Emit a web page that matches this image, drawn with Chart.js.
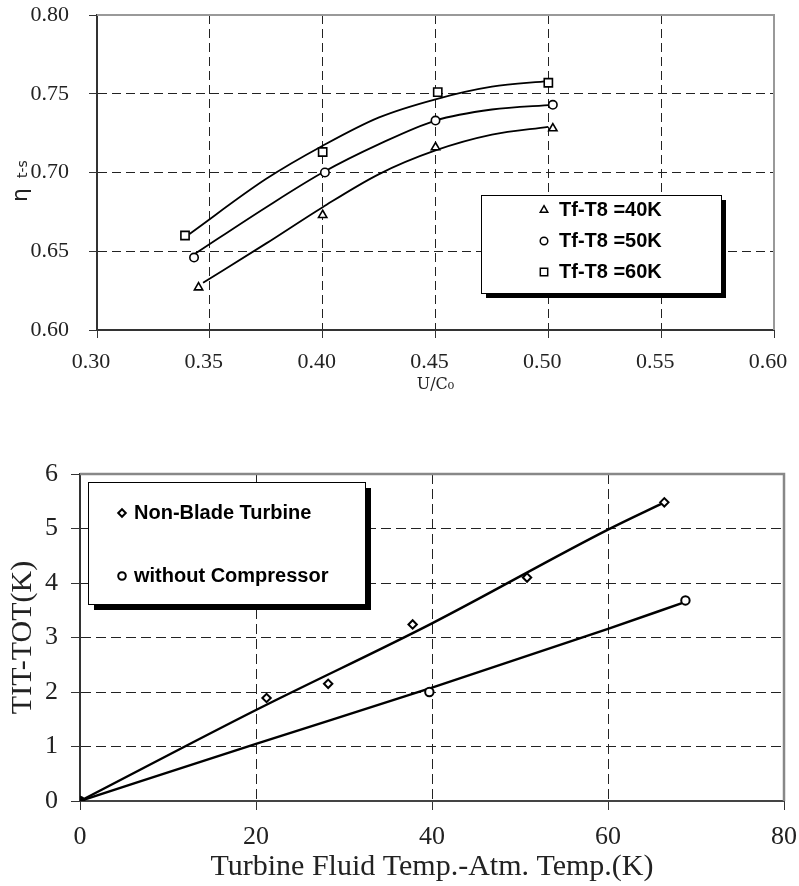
<!DOCTYPE html>
<html>
<head>
<meta charset="utf-8">
<script src="https://cdn.jsdelivr.net/npm/chart.js@4.4.1/dist/chart.umd.min.js"></script>
<style>
body { margin: 0; background: #fff; }
#top_box { position: absolute; left: 0; top: 0; }
#bottom_box { position: absolute; left: 0; top: 400px; }
</style>
</head>
<body>
<div id="top_box"><canvas id="eff_chart" width="799" height="400"></canvas></div>
<div id="bottom_box"><canvas id="temp_chart" width="799" height="486"></canvas></div>
<script>
// --- efficiency vs U/C0 ---
let uc_ticks = [0.30, 0.35, 0.40, 0.45, 0.50, 0.55, 0.60]
let eta_ticks = [0.60, 0.65, 0.70, 0.75, 0.80]

let uc_40 = [0.345, 0.400, 0.450, 0.502]
let eta_40 = [0.627, 0.673, 0.716, 0.728]
let uc_50 = [0.343, 0.401, 0.450, 0.502]
let eta_50 = [0.646, 0.700, 0.733, 0.743]
let uc_60 = [0.339, 0.400, 0.451, 0.500]
let eta_60 = [0.660, 0.713, 0.751, 0.757]

// trend curves through each set
let fit_uc_40 = [0.347, 0.375, 0.400, 0.425, 0.450, 0.475, 0.500]
let fit_eta_40 = [0.630, 0.655, 0.678, 0.699, 0.714, 0.724, 0.729]
let fit_uc_50 = [0.343, 0.375, 0.400, 0.425, 0.450, 0.475, 0.502]
let fit_eta_50 = [0.648, 0.678, 0.700, 0.718, 0.733, 0.740, 0.743]
let fit_uc_60 = [0.341, 0.375, 0.400, 0.425, 0.450, 0.475, 0.500]
let fit_eta_60 = [0.661, 0.696, 0.717, 0.735, 0.7465, 0.7545, 0.758]

// --- TIT-TOT vs fluid temperature difference ---
let dt_ticks = [0, 20, 40, 60, 80]
let tot_ticks = [0, 1, 2, 3, 4, 5, 6]

let dt_blade = [0, 21.2, 28.2, 37.8, 50.8, 66.4]
let tot_blade = [0, 1.89, 2.15, 3.24, 4.10, 5.48]
let dt_comp = [0, 39.7, 68.8]
let tot_comp = [0, 2.00, 3.68]

let fit_dt_blade = [0, 20, 40, 60, 66.4]
let fit_tot_blade = [0, 1.67, 3.26, 4.98, 5.48]
let fit_dt_comp = [0, 20, 40, 60, 68.4]
let fit_tot_comp = [0, 1.05, 2.08, 3.16, 3.63]

function pts(xs, ys) {
    return xs.map((x, i) => ({ x: x, y: ys[i] }))
}

function set_ticks(vals) {
    return function (scale) {
        scale.ticks = vals.map(v => ({ value: v }))
    }
}

// fixed axis size, and no extra room for labels hanging over the ends
function fix_size(prop, px) {
    return function (scale) {
        scale[prop] = px
        scale.paddingTop = 0
        scale.paddingBottom = 0
        scale.paddingLeft = 0
        scale.paddingRight = 0
    }
}

// dashed grid, but nothing on the frame edges
function inner_grid(vals) {
    return function (c) {
        let v = c.tick ? c.tick.value : null
        if (v === vals[0] || v === vals[vals.length - 1]) return 'rgba(0,0,0,0)'
        return '#222'
    }
}

// gray top / right frame
const frame_lines = {
    id: 'frame_lines',
    beforeDatasetsDraw(chart, args, opts) {
        let a = chart.chartArea
        let ctx = chart.ctx
        ctx.save()
        ctx.strokeStyle = opts.color
        ctx.lineWidth = opts.width
        ctx.beginPath()
        ctx.moveTo(a.left, a.top)
        ctx.lineTo(a.right, a.top)
        ctx.lineTo(a.right, a.bottom)
        ctx.stroke()
        ctx.restore()
    }
}

// legend box with a drop shadow
const box_legend = {
    id: 'box_legend',
    afterDraw(chart, args, opts) {
        let ctx = chart.ctx
        ctx.save()
        ctx.fillStyle = '#000'
        ctx.fillRect(opts.x + opts.shadow, opts.y + opts.shadow, opts.w, opts.h)
        ctx.fillStyle = '#fff'
        ctx.fillRect(opts.x, opts.y, opts.w, opts.h)
        ctx.strokeStyle = '#000'
        ctx.lineWidth = 1
        ctx.strokeRect(opts.x + 0.5, opts.y + 0.5, opts.w, opts.h)
        ctx.font = opts.font
        ctx.textBaseline = 'middle'
        ctx.textAlign = 'left'
        let row = 0
        chart.data.datasets.forEach(ds => {
            if (!ds.label) return
            let y = opts.rows[row++]
            ctx.fillStyle = '#fff'
            ctx.strokeStyle = '#000'
            ctx.lineWidth = opts.marker_w
            Chart.helpers.drawPoint(ctx, {
                pointStyle: ds.pointStyle,
                radius: ds.pointRadius * opts.marker_scale,
                borderWidth: opts.marker_w
            }, opts.x + opts.marker_x, y)
            ctx.fillStyle = '#000'
            ctx.fillText(ds.label, opts.x + opts.text_x, y)
        })
        ctx.restore()
    }
}

// eta with t-s subscript, written upward
const eta_title = {
    id: 'eta_title',
    afterDraw(chart) {
        let ctx = chart.ctx
        ctx.save()
        ctx.translate(21, 183)
        ctx.rotate(-Math.PI / 2)
        ctx.fillStyle = '#222'
        ctx.textBaseline = 'middle'
        ctx.textAlign = 'left'
        ctx.font = '22px "DejaVu Sans"'
        ctx.fillText('η', -19, 0)
        ctx.font = '14px "DejaVu Sans"'
        ctx.fillText('t-s', 5, 2)
        ctx.restore()
    }
}

function line_set(data, tension, width) {
    return {
        data: data,
        showLine: true,
        borderColor: '#000',
        borderWidth: width,
        pointRadius: 0,
        tension: tension,
        cubicInterpolationMode: 'monotone'
    }
}

function mark_set(label, data, style, r, bw) {
    return {
        label: label,
        data: data,
        showLine: false,
        pointStyle: style,
        pointRadius: r,
        pointBorderWidth: bw,
        pointBorderColor: '#000',
        pointBackgroundColor: '#fff'
    }
}

let eff_chart = new Chart(document.getElementById('eff_chart'), {
    type: 'scatter',
    data: {
        datasets: [
            mark_set('Tf-T8 =40K', pts(uc_40, eta_40), 'triangle', 4.8, 1.6),
            mark_set('Tf-T8 =50K', pts(uc_50, eta_50), 'circle', 4.2, 1.6),
            mark_set('Tf-T8 =60K', pts(uc_60, eta_60), 'rect', 5.8, 1.6),
            line_set(pts(fit_uc_40, fit_eta_40), 0.4, 1.8),
            line_set(pts(fit_uc_50, fit_eta_50), 0.4, 1.8),
            line_set(pts(fit_uc_60, fit_eta_60), 0.4, 1.8)
        ]
    },
    options: {
        responsive: false,
        animation: false,
        layout: { padding: { top: 15, right: 25, left: 0, bottom: 0 } },
        plugins: {
            legend: { display: false },
            tooltip: { enabled: false },
            frame_lines: { color: '#999', width: 2 },
            box_legend: {
                x: 481, y: 195, w: 240, h: 98, shadow: 5,
                rows: [210, 241, 272],
                marker_x: 63, text_x: 78, marker_scale: 0.9, marker_w: 1.5,
                font: 'bold 20px "Liberation Sans"'
            }
        },
        scales: {
            x: {
                type: 'linear', min: 0.3, max: 0.6,
                afterBuildTicks: set_ticks(uc_ticks),
                afterFit: fix_size('height', 70),
                ticks: {
                    callback: v => v.toFixed(2),
                    font: { family: 'Liberation Serif', size: 22 },
                    color: '#222', padding: 11, labelOffset: -6,
                    maxRotation: 0, autoSkip: false
                },
                grid: { color: inner_grid(uc_ticks), tickColor: '#333', tickLength: 8, lineWidth: 1 },
                border: { color: '#333', width: 2, dash: [9, 5] },
                title: {
                    display: true, text: 'U/C₀', color: '#222',
                    font: { family: 'DejaVu Serif', size: 16 },
                    padding: { top: 0, bottom: 6 }
                }
            },
            y: {
                type: 'linear', min: 0.6, max: 0.8,
                afterBuildTicks: set_ticks(eta_ticks),
                afterFit: fix_size('width', 97),
                ticks: {
                    callback: v => v.toFixed(2),
                    font: { family: 'Liberation Serif', size: 22 },
                    color: '#222', padding: 20, autoSkip: false
                },
                grid: { color: inner_grid(eta_ticks), tickColor: '#333', tickLength: 8, lineWidth: 1 },
                border: { color: '#333', width: 2, dash: [9, 5] }
            }
        }
    },
    plugins: [frame_lines, box_legend, eta_title]
})

let first_black = c => c.dataIndex === 0 ? '#000' : '#fff'

let temp_chart = new Chart(document.getElementById('temp_chart'), {
    type: 'scatter',
    data: {
        datasets: [
            Object.assign(mark_set('Non-Blade Turbine', pts(dt_blade, tot_blade), 'rectRot', 4.2, 2), { pointBackgroundColor: first_black }),
            Object.assign(mark_set('without Compressor', pts(dt_comp, tot_comp), 'circle', 4.2, 2), { pointBackgroundColor: first_black }),
            line_set(pts(fit_dt_blade, fit_tot_blade), 0, 2.4),
            line_set(pts(fit_dt_comp, fit_tot_comp), 0, 2.4)
        ]
    },
    options: {
        responsive: false,
        animation: false,
        layout: { padding: { top: 74, right: 15, left: 0, bottom: 0 } },
        plugins: {
            legend: { display: false },
            tooltip: { enabled: false },
            frame_lines: { color: '#888', width: 2.5 },
            box_legend: {
                x: 88, y: 82, w: 277, h: 122, shadow: 6,
                rows: [113, 176],
                marker_x: 34, text_x: 46, marker_scale: 0.9, marker_w: 2,
                font: 'bold 20px "Liberation Sans"'
            }
        },
        scales: {
            x: {
                type: 'linear', min: 0, max: 80,
                afterBuildTicks: set_ticks(dt_ticks),
                afterFit: fix_size('height', 85),
                ticks: {
                    font: { family: 'Liberation Serif', size: 26 },
                    color: '#222', padding: 12, maxRotation: 0, autoSkip: false
                },
                grid: { color: inner_grid(dt_ticks), tickColor: '#333', tickLength: 9, lineWidth: 1 },
                border: { color: '#444', width: 2, dash: [10, 5] },
                title: {
                    display: true, text: 'Turbine Fluid Temp.-Atm. Temp.(K)', color: '#222',
                    font: { family: 'Liberation Serif', size: 30 },
                    padding: { top: 0, bottom: 1 }
                }
            },
            y: {
                type: 'linear', min: 0, max: 6,
                afterBuildTicks: set_ticks(tot_ticks),
                afterFit: fix_size('width', 80),
                ticks: {
                    font: { family: 'Liberation Serif', size: 26 },
                    color: '#222', padding: 13, autoSkip: false
                },
                grid: { color: inner_grid(tot_ticks), tickColor: '#333', tickLength: 9, lineWidth: 1 },
                border: { color: '#333', width: 2, dash: [10, 5] },
                title: {
                    display: true, text: 'TIT-TOT(K)', color: '#222',
                    font: { family: 'Liberation Serif', size: 30 },
                    padding: { top: 5, bottom: 0 }
                }
            }
        }
    },
    plugins: [frame_lines, box_legend]
})
</script>
</body>
</html>
